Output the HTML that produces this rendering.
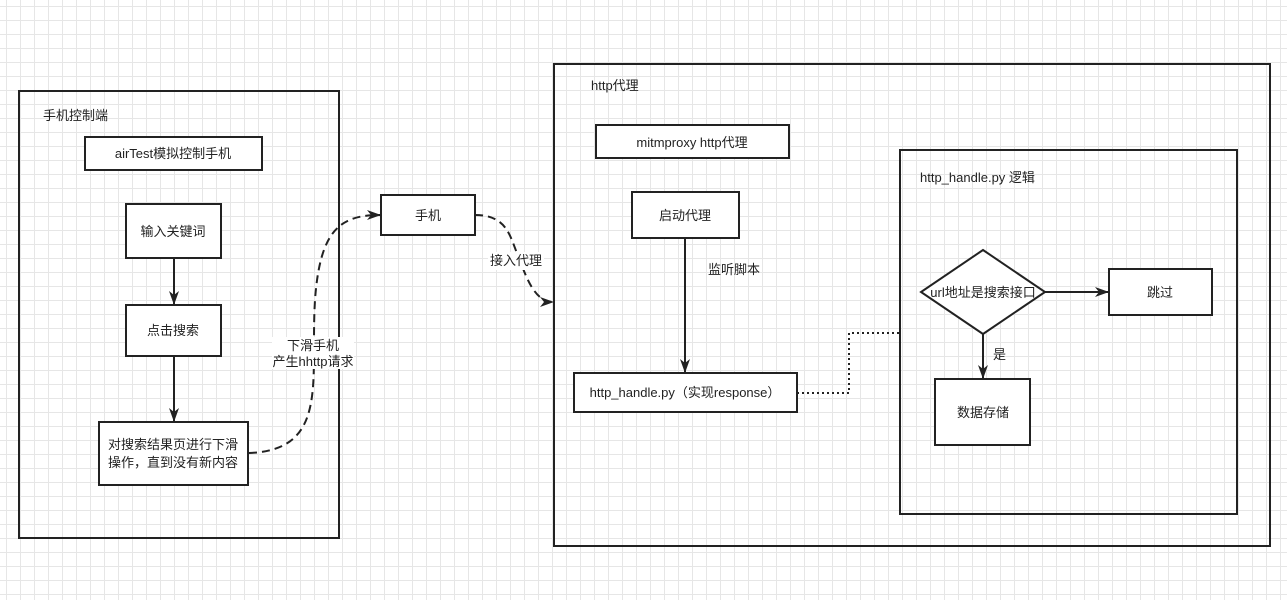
<!DOCTYPE html>
<html><head><meta charset="utf-8"><style>
html,body{margin:0;padding:0;}
body{width:1287px;height:600px;overflow:hidden;background-color:#fff;
background-image:linear-gradient(#e6e6e6 1px,transparent 1px),linear-gradient(90deg,#e6e6e6 1px,transparent 1px);
background-size:14px 14px;background-position:6px 6px;}
svg{position:absolute;left:0;top:0;}
text{font-family:"Liberation Sans","Noto Sans CJK SC",sans-serif;font-size:13px;fill:#222;}
</style></head><body>
<svg width="1287" height="600" viewBox="0 0 1287 600">
<defs><marker id="a" viewBox="0 0 14 12" markerWidth="14" markerHeight="12" refX="13" refY="6" orient="auto" markerUnits="userSpaceOnUse"><path d="M0,1 L14,6 L0,11 L4,6 Z" fill="#222"/></marker></defs>
<g fill="none" stroke="#222" stroke-width="2">
<rect x="19" y="91" width="320" height="447"/>
<rect x="554" y="64" width="716" height="482"/>
<rect x="900" y="150" width="337" height="364"/>
</g>
<g fill="#fff" stroke="#222" stroke-width="2">
<rect x="85" y="137" width="177" height="33"/>
<rect x="126" y="204" width="95" height="54"/>
<rect x="126" y="305" width="95" height="51"/>
<rect x="99" y="422" width="149" height="63"/>
<rect x="381" y="195" width="94" height="40"/>
<rect x="596" y="125" width="193" height="33"/>
<rect x="632" y="192" width="107" height="46"/>
<rect x="574" y="373" width="223" height="39"/>
<rect x="1109" y="269" width="103" height="46"/>
<rect x="935" y="379" width="95" height="66"/>
<polygon points="983,250 1045,292 983,334 921,292"/>
</g>
<g fill="none" stroke="#222" stroke-width="2" marker-end="url(#a)">
<line x1="174" y1="258" x2="174" y2="304"/>
<line x1="174" y1="356" x2="174" y2="421"/>
<line x1="685" y1="238" x2="685" y2="372"/>
<line x1="1045" y1="292" x2="1108" y2="292"/>
<line x1="983" y1="334" x2="983" y2="378"/>
<path d="M249,453 C330,450 310,380 315,300 C320,230 340,215 380,215" stroke-dasharray="8,5"/>
<path d="M475,215 C510,215 510,240 520,260 C530,290 540,302 553,302" stroke-dasharray="8,5"/>
</g>
<path d="M797,393 L849,393 L849,333 L899,333" fill="none" stroke="#222" stroke-width="2" stroke-dasharray="2,3"/>
<rect x="272" y="337" width="82" height="32" fill="#fff"/>
<rect x="488" y="252" width="56" height="18" fill="#fff"/>
<text x="43" y="120">手机控制端</text>
<text x="173" y="158" text-anchor="middle">airTest模拟控制手机</text>
<text x="173" y="236" text-anchor="middle">输入关键词</text>
<text x="173" y="335" text-anchor="middle">点击搜索</text>
<text x="173" y="449" text-anchor="middle">对搜索结果页进行下滑</text>
<text x="173" y="467" text-anchor="middle">操作，直到没有新内容</text>
<text x="313" y="350" text-anchor="middle">下滑手机</text>
<text x="313" y="366" text-anchor="middle">产生hhttp请求</text>
<text x="428" y="220" text-anchor="middle">手机</text>
<text x="516" y="265" text-anchor="middle">接入代理</text>
<text x="591" y="90">http代理</text>
<text x="692" y="147" text-anchor="middle">mitmproxy http代理</text>
<text x="685" y="220" text-anchor="middle">启动代理</text>
<text x="708" y="274">监听脚本</text>
<text x="685" y="397" text-anchor="middle">http_handle.py（实现response）</text>
<text x="920" y="182">http_handle.py 逻辑</text>
<text x="983" y="297" text-anchor="middle">url地址是搜索接口</text>
<text x="1160" y="297" text-anchor="middle">跳过</text>
<text x="993" y="359">是</text>
<text x="983" y="417" text-anchor="middle">数据存储</text>
</svg>
</body></html>
